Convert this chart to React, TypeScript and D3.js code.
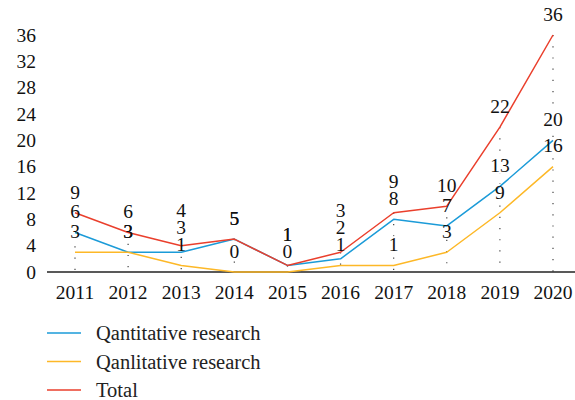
import * as d3 from "d3";

const years = [2011, 2012, 2013, 2014, 2015, 2016, 2017, 2018, 2019, 2020];
const quantitative = [6, 3, 3, 5, 1, 2, 8, 7, 13, 20];
const qualitative = [3, 3, 1, 0, 0, 1, 1, 3, 9, 16];
const total = [9, 6, 4, 5, 1, 3, 9, 10, 22, 36];
const yTicks = [0, 4, 8, 12, 16, 20, 24, 28, 32, 36];

const series = [
  { name: "Qantitative research", values: quantitative, color: "#1b9bd8" },
  { name: "Qanlitative research", values: qualitative, color: "#fdb827" },
  { name: "Total", values: total, color: "#ea3f2c" },
];

const FONT = "'Liberation Serif', 'Times New Roman', serif";

const App = () => {
  const x = d3.scaleLinear().domain([2011, 2020]).range([75, 553]);
  const y = d3.scaleLinear().domain([0, 36]).range([272, 35]);

  const line = d3
    .line<number>()
    .x((_, i) => x(years[i]))
    .y((d) => y(d));

  // value labels per year, pushed apart from the bottom up
  const labels: { x: number; cy: number; text: string }[] = [];
  years.forEach((yr, i) => {
    const items = series.map((s) => s.values[i]).sort((a, b) => a - b);
    let prevPos: number | null = null;
    let prevV: number | null = null;
    items.forEach((v) => {
      const want = y(v) - 21;
      let pos = want;
      if (prevPos !== null) {
        pos = v === prevV ? prevPos : Math.min(want, prevPos - 17);
      }
      labels.push({ x: x(yr), cy: pos, text: String(v) });
      prevPos = pos;
      prevV = v;
    });
  });

  return (
    <svg
      width={575}
      height={400}
      style={{ position: "absolute", left: 0, top: 0, background: "#fff", fontFamily: FONT }}
    >
      {/* drop lines */}
      {years.map((yr, i) => (
        <line
          key={"drop" + yr}
          x1={x(yr)}
          x2={x(yr)}
          y1={y(total[i])}
          y2={y(0)}
          stroke="#444"
          strokeWidth={1.2}
          strokeDasharray="1.2,10"
        />
      ))}

      {/* label backgrounds */}
      {labels.map((l, i) => (
        <rect
          key={"bg" + i}
          x={l.x - l.text.length * 5 - 1}
          y={l.cy - 8}
          width={l.text.length * 10 + 2}
          height={16}
          fill="#fff"
        />
      ))}

      {/* y axis tick labels */}
      {yTicks.map((t) => (
        <text
          key={"yt" + t}
          x={36}
          y={y(t)}
          dy="0.35em"
          textAnchor="end"
          fontSize={19.5}
          fill="#111"
        >
          {t}
        </text>
      ))}

      {/* x axis */}
      <line x1={47} x2={575} y1={y(0)} y2={y(0)} stroke="#222" strokeWidth={1.6} />
      {years.map((yr) => (
        <text
          key={"xt" + yr}
          x={x(yr)}
          y={292}
          dy="0.35em"
          textAnchor="middle"
          fontSize={19.5}
          fill="#111"
        >
          {yr}
        </text>
      ))}

      {/* series lines */}
      {series.map((s) => (
        <path
          key={s.name}
          d={line(s.values) ?? ""}
          fill="none"
          stroke={s.color}
          strokeWidth={1.5}
          strokeLinejoin="round"
        />
      ))}

      {/* value labels */}
      {labels.map((l, i) => (
        <text
          key={"lb" + i}
          x={l.x}
          y={l.cy}
          dy="0.35em"
          textAnchor="middle"
          fontSize={19.5}
          fill="#111"
        >
          {l.text}
        </text>
      ))}

      {/* legend */}
      {series.map((s, i) => (
        <g key={"lg" + s.name} transform={`translate(0,${333 + i * 28.5})`}>
          <line x1={47} x2={81} y1={0} y2={0} stroke={s.color} strokeWidth={1.6} />
          <text x={96} y={0} dy="0.35em" fontSize={20.5} fill="#222">
            {s.name}
          </text>
        </g>
      ))}
    </svg>
  );
};

export default App;
